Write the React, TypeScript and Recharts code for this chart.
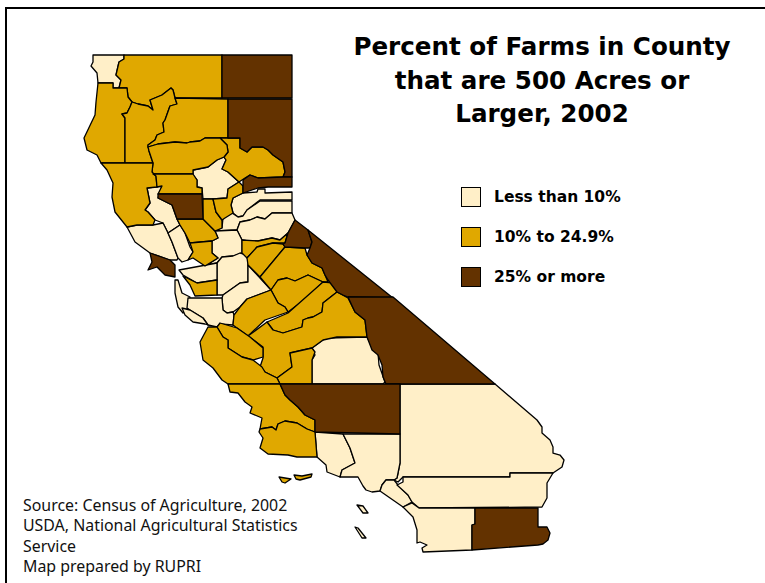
import { ScatterChart, Scatter, XAxis, YAxis } from "recharts"

type Outline = number[][]

// county outlines (x east, y south)
const delNorte: Outline = [[93,55],[124,55],[124,59],[119,62],[116,75],[121,80],[119,88],[113,88],[113,83],[98,83],[97,73],[91,66],[93,62]]
const siskiyou: Outline = [[124,55],[222,55],[222,98],[175,98],[173,90],[171,88],[162,95],[150,100],[153,110],[148,106],[138,104],[132,102],[128,97],[127,88],[119,88],[121,80],[116,75],[119,62],[124,59]]
const modoc: Outline = [[222,55],[292,55],[292,98],[222,98]]
const humboldt: Outline = [[98,83],[113,83],[113,88],[127,88],[128,97],[132,102],[130,107],[127,113],[122,114],[125,118],[125,163],[101,163],[97,155],[87,150],[84,138],[95,115],[96,102]]
const trinity: Outline = [[125,118],[122,114],[127,113],[130,107],[132,102],[138,104],[148,106],[153,110],[150,100],[162,95],[171,88],[173,90],[175,98],[177,104],[170,106],[165,120],[163,123],[164,132],[157,135],[155,140],[148,145],[149,151],[153,163],[125,163]]
const shasta: Outline = [[175,98],[228,99],[228,138],[205,138],[200,141],[190,142],[187,143],[175,142],[158,144],[148,147],[148,145],[155,140],[157,135],[164,132],[163,123],[165,120],[170,106],[177,104]]
const lassen: Outline = [[228,99],[292,99],[292,177],[283,177],[285,172],[283,162],[273,155],[268,150],[263,147],[252,147],[247,152],[240,148],[240,138],[228,138]]
const plumas: Outline = [[228,138],[240,138],[240,148],[247,152],[252,147],[263,147],[268,150],[273,155],[283,162],[285,172],[283,177],[258,178],[250,175],[245,178],[239,182],[228,172],[222,169],[226,160],[224,157],[228,152],[227,145],[220,138]]
const tehama: Outline = [[148,147],[158,144],[175,142],[187,143],[190,142],[200,141],[205,138],[220,138],[227,145],[228,152],[224,157],[217,160],[208,167],[193,170],[193,174],[153,174],[152,172],[153,163],[149,151]]
const butte: Outline = [[193,170],[208,167],[217,160],[224,157],[226,160],[222,169],[228,172],[239,182],[228,189],[227,198],[213,199],[203,199],[202,188],[197,187],[197,180],[193,175]]
const sierra: Outline = [[243,180],[250,175],[258,178],[283,177],[292,177],[292,187],[268,187],[258,188],[243,193]]
const mendocino: Outline = [[101,163],[153,163],[152,172],[156,176],[157,187],[147,188],[150,203],[145,210],[148,212],[155,220],[153,225],[137,225],[127,227],[115,212],[112,197],[113,183],[107,170]]
const glenn: Outline = [[153,174],[193,174],[197,180],[197,187],[202,188],[202,194],[158,194],[162,186],[157,187],[156,176]]
const colusa: Outline = [[158,194],[202,194],[203,219],[177,219],[172,205],[158,198]]
const lake: Outline = [[147,188],[162,186],[158,198],[172,205],[177,219],[180,225],[168,233],[163,223],[155,220],[148,212],[145,210],[150,203]]
const sonoma: Outline = [[127,227],[137,225],[153,225],[163,223],[168,233],[172,242],[178,258],[177,260],[170,260],[150,253],[135,242]]
const napa: Outline = [[168,233],[180,225],[185,233],[190,247],[193,252],[188,260],[182,262],[178,258],[172,242]]
const marin: Outline = [[150,253],[170,260],[175,265],[175,277],[165,275],[157,267],[148,270],[152,262]]
const yolo: Outline = [[177,219],[203,219],[208,224],[215,231],[218,238],[212,241],[190,243],[185,233],[180,225]]
const solano: Outline = [[190,243],[212,241],[212,253],[218,258],[205,266],[193,258],[188,260],[193,252]]
const sutter: Outline = [[203,199],[213,199],[216,212],[222,220],[222,228],[215,231],[208,224],[203,219]]
const yuba: Outline = [[239,182],[243,186],[243,193],[233,198],[231,205],[233,213],[225,218],[222,220],[216,212],[213,199],[227,198],[228,189]]
const nevada: Outline = [[243,193],[257,192],[258,189],[265,189],[265,193],[292,192],[292,200],[260,200],[247,210],[243,216],[238,217],[233,213],[231,205],[233,198]]
const placer: Outline = [[232,213],[238,217],[243,216],[247,210],[260,201],[292,201],[292,213],[272,213],[265,219],[257,217],[250,220],[240,222],[237,230],[215,231],[222,228],[223,218]]
const elDorado: Outline = [[237,230],[240,222],[250,220],[257,217],[265,219],[272,213],[292,213],[295,220],[288,233],[280,240],[272,238],[258,241],[248,241],[242,240]]
const alpine: Outline = [[295,220],[308,230],[312,242],[310,248],[305,248],[285,247],[283,244],[285,243],[288,233]]
const mono: Outline = [[308,230],[393,298],[348,297],[343,295],[337,292],[328,280],[325,275],[322,268],[312,263],[307,255],[310,248],[312,242]]
const amador: Outline = [[242,240],[258,241],[272,238],[280,240],[288,233],[285,243],[273,243],[257,247],[247,258],[242,253]]
const calaveras: Outline = [[247,258],[257,247],[273,243],[283,244],[285,247],[260,277],[248,265]]
const tuolumne: Outline = [[260,277],[285,247],[305,248],[307,255],[312,263],[322,268],[325,275],[328,282],[323,282],[308,275],[295,281],[287,278],[278,280],[271,290]]
const sacramento: Outline = [[215,231],[237,230],[242,240],[242,253],[233,256],[222,257],[217,263],[207,265],[218,258],[212,253],[212,241],[218,238]]
const sanJoaquin: Outline = [[217,263],[222,257],[233,256],[240,253],[248,255],[248,282],[240,283],[223,295],[217,295],[217,280]]
const stanislaus: Outline = [[248,265],[271,290],[247,299],[240,307],[233,312],[227,313],[223,310],[222,298],[223,295],[240,283],[248,282]]
const mariposa: Outline = [[271,290],[278,280],[287,278],[295,281],[308,275],[323,282],[308,297],[288,312],[285,307],[278,303]]
const madera: Outline = [[288,313],[323,282],[335,283],[337,292],[323,303],[322,312],[313,317],[308,318],[303,320],[302,327],[283,333],[273,330],[267,322]]
const merced: Outline = [[240,307],[247,299],[271,290],[278,303],[285,307],[288,312],[265,320],[248,336],[237,328],[233,325],[234,315]]
const fresno: Outline = [[248,336],[267,322],[273,330],[283,333],[302,327],[303,320],[308,318],[313,317],[322,312],[323,303],[337,292],[348,298],[355,312],[365,320],[367,337],[337,337],[323,340],[312,348],[290,353],[292,367],[277,378],[265,372],[260,367],[263,358],[263,347]]
const kings: Outline = [[290,353],[312,348],[315,352],[312,360],[312,384],[280,384],[277,378],[292,367]]
const tulare: Outline = [[312,348],[323,340],[327,338],[367,337],[370,343],[378,353],[379,365],[385,382],[383,384],[312,384],[312,360],[315,355]]
const inyo: Outline = [[348,297],[393,297],[495,384],[386,384],[383,377],[382,365],[378,355],[372,350],[367,337],[365,320],[355,312]]
const kern: Outline = [[280,384],[400,384],[400,434],[315,432],[315,420],[305,415],[298,407],[290,400],[285,395]]
const sanBernardino: Outline = [[400,384],[495,384],[537,420],[542,427],[542,433],[550,440],[553,447],[553,453],[560,455],[564,460],[562,467],[553,473],[510,473],[510,477],[403,477],[398,482],[394,480],[397,478],[400,463]]
const ventura: Outline = [[315,432],[343,434],[350,448],[355,463],[342,470],[340,477],[327,472],[326,465],[317,457]]
const losAngeles: Outline = [[343,434],[400,434],[400,463],[397,478],[394,480],[386,480],[382,485],[380,491],[372,492],[366,490],[363,486],[358,477],[340,477],[342,470],[355,463],[350,448]]
const orange: Outline = [[380,491],[382,485],[386,480],[394,480],[398,485],[408,495],[412,502],[403,507]]
const riverside: Outline = [[403,477],[510,477],[510,473],[553,473],[547,483],[547,498],[542,507],[419,508],[412,502],[408,495],[397,485],[403,482]]
const imperial: Outline = [[475,508],[538,508],[538,527],[547,527],[550,533],[548,540],[543,544],[538,545],[472,550],[472,525],[475,524]]
const sanDiego: Outline = [[403,507],[412,503],[419,508],[475,508],[475,524],[472,525],[472,550],[423,552],[422,548],[427,545],[420,542],[417,543],[417,530],[413,517]]
const sanCatalina: Outline = [[357,505],[363,506],[368,513],[363,513]]
const sanClemente: Outline = [[355,527],[358,528],[366,538],[362,538]]
const santaRosa: Outline = [[279,477],[291,479],[285,483],[282,482]]
const santaCruzIsland: Outline = [[294,475],[302,476],[312,474],[311,477],[300,480],[296,479]]
const contraCosta: Outline = [[179,270],[217,263],[217,280],[197,283],[183,275]]
const alameda: Outline = [[183,276],[197,283],[217,280],[217,295],[195,296],[190,285]]
const sanMateo: Outline = [[175,280],[178,280],[182,293],[190,297],[188,308],[183,313],[178,307],[175,293]]
const santaClara: Outline = [[188,298],[222,298],[223,310],[227,313],[233,312],[234,315],[233,325],[220,324],[217,327],[208,325],[203,318],[190,310],[187,308]]
const santaCruz: Outline = [[182,308],[190,310],[203,318],[208,325],[205,324],[193,322],[185,315]]
const sanBenito: Outline = [[217,327],[220,323],[237,328],[250,337],[263,348],[263,357],[253,360],[242,357],[228,348],[228,340],[223,337]]
const monterey: Outline = [[208,327],[217,327],[223,337],[228,340],[228,348],[242,357],[253,360],[262,367],[265,372],[277,378],[280,384],[228,384],[222,380],[213,368],[203,360],[200,342]]
const sanLuisObispo: Outline = [[228,384],[280,384],[285,395],[290,400],[298,407],[305,415],[315,420],[315,432],[307,429],[297,423],[285,421],[278,424],[276,430],[272,427],[260,429],[262,418],[250,413],[252,407],[245,402],[238,393],[230,392]]
const santaBarbara: Outline = [[260,429],[272,427],[276,430],[278,424],[285,421],[297,423],[307,429],[315,432],[317,457],[297,457],[288,455],[268,454],[260,448],[263,438],[259,432]]

const lowCounties = [delNorte, butte, lake, sonoma, napa, nevada, placer, elDorado, sacramento, sanJoaquin, stanislaus, tulare, sanBernardino, ventura, losAngeles, orange, riverside, sanDiego, sanCatalina, sanClemente, contraCosta, sanMateo, santaClara, santaCruz]
const midCounties = [siskiyou, humboldt, trinity, shasta, plumas, tehama, mendocino, glenn, yolo, solano, sutter, yuba, amador, calaveras, tuolumne, mariposa, madera, merced, fresno, kings, santaRosa, santaCruzIsland, alameda, sanBenito, monterey, sanLuisObispo, santaBarbara]
const highCounties = [modoc, lassen, sierra, colusa, marin, alpine, mono, inyo, kern, imperial]

const legendLabels = ["Less than 10%", "10% to 24.9%", "25% or more"]
const legendColors = ["#FFEFC8", "#E0A800", "#633200"]
const tiers = [lowCounties, midCounties, highCounties]

const titleLines = ["Percent of Farms in County", "that are 500 Acres or", "Larger, 2002"]
const sourceLines = ["Source: Census of Agriculture, 2002", "USDA, National Agricultural Statistics", "Service", "Map prepared by RUPRI"]

const mapFont = "'DejaVu Sans', sans-serif"

// Scatter hands the scaled points to this, so a county comes out as a closed polygon
const countyShape = (fill: string) => (props: any) => (
  <polygon
    points={props.points.map((p: any) => `${p.x},${p.y}`).join(" ")}
    fill={fill}
    stroke="#000"
    strokeWidth={1.3}
    strokeLinejoin="round"
  />
)

export default function App() {
  return (
    <div style={{ position: "absolute", left: 0, top: 0, width: 765, height: 583, overflow: "hidden", background: "#fff" }}>
      <div style={{ position: "absolute", left: 5, top: 7, width: 800, height: 600, borderLeft: "2px solid #000", borderTop: "2px solid #000" }} />
      <ScatterChart width={765} height={583} margin={{ top: 0, right: 0, bottom: 0, left: 0 }}>
        <XAxis type="number" dataKey="x" domain={[0, 765]} hide />
        <YAxis type="number" dataKey="y" domain={[0, 583]} reversed hide />
        {tiers.map((counties, t) =>
          counties.map((outline, i) => (
            <Scatter
              key={`${t}-${i}`}
              data={outline.map(([x, y]) => ({ x, y }))}
              line={countyShape(legendColors[t])}
              shape={() => null}
              legendType="none"
              isAnimationActive={false}
            />
          ))
        )}
      </ScatterChart>
      <div style={{ position: "absolute", left: 342, top: 30, width: 400, textAlign: "center", fontFamily: mapFont, fontWeight: 700, fontSize: 24.6, lineHeight: "33.5px", color: "#000" }}>
        {titleLines.map((line) => <div key={line}>{line}</div>)}
      </div>
      <div style={{ position: "absolute", left: 461, top: 187 }}>
        {legendLabels.map((label, i) => (
          <div key={label} style={{ display: "flex", alignItems: "center", height: 20, marginBottom: 20 }}>
            <div style={{ width: 18, height: 18, background: legendColors[i], border: "1px solid #000" }} />
            <span style={{ marginLeft: 13, fontSize: 15.5, fontWeight: 700, fontFamily: mapFont, color: "#000", whiteSpace: "nowrap" }}>{label}</span>
          </div>
        ))}
      </div>
      <div style={{ position: "absolute", left: 23, top: 495, fontFamily: "'Noto Sans', sans-serif", fontSize: 15.9, lineHeight: "20.3px", color: "#111", whiteSpace: "nowrap" }}>
        {sourceLines.map((line) => <div key={line}>{line}</div>)}
      </div>
    </div>
  )
}
